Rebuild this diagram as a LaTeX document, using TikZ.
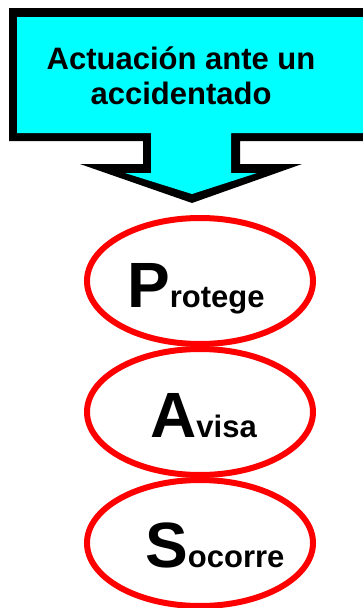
\documentclass[tikz,border=0pt]{standalone}
\usepackage{fontspec}
\setmainfont{Liberation Sans}
\usetikzlibrary{shapes.geometric}
\definecolor{calloutcyan}{RGB}{0,255,255}
\definecolor{ringred}{RGB}{255,0,0}
\tikzset{
  ring/.style={ellipse, draw=ringred, line width=6pt, minimum width=226pt, minimum height=126pt, inner sep=0pt},
  headtext/.style={font=\fontsize{31}{35}\selectfont\bfseries, align=center, text=black, inner sep=0pt},
  wordlabel/.style={anchor=base west, inner sep=0pt}
}
\newcommand{\biglet}{\fontsize{64}{64}\selectfont\bfseries}
\newcommand{\smallwd}{\fontsize{31}{31}\selectfont\bfseries}
\begin{document}
\begin{tikzpicture}[x=1pt, y=-1pt]
\clip (0,0) rectangle (363,608);
\useasboundingbox (0,0) rectangle (363,608);
% callout outer (black)
\fill[black] (9,8) -- (372,8) -- (372,141) -- (240,141) -- (240,164) -- (302,164) -- (192,203)
  -- (80,164) -- (143,164) -- (143,141) -- (9,141) -- cycle;
% callout inner (cyan)
\fill[calloutcyan] (17,17) -- (372,17) -- (372,133) -- (231,133) -- (231,173) -- (257,173) -- (192,194)
  -- (125,173) -- (151,173) -- (151,133) -- (17,133) -- cycle;
\node[headtext, anchor=base] (head) at (181,104) {Actuación ante un\\accidentado};
% rings
\node[ring] (p) at (200,281) {};
\node[ring] (a) at (200,412) {};
\node[ring] (s) at (200,543) {};
% labels
\node[wordlabel] (pt) at (127,307) {\biglet P\smallwd rotege};
\node[wordlabel] (at) at (150,437) {\biglet A\smallwd visa};
\node[wordlabel] (st) at (145,567) {\biglet S\smallwd ocorre};
\end{tikzpicture}
\end{document}
